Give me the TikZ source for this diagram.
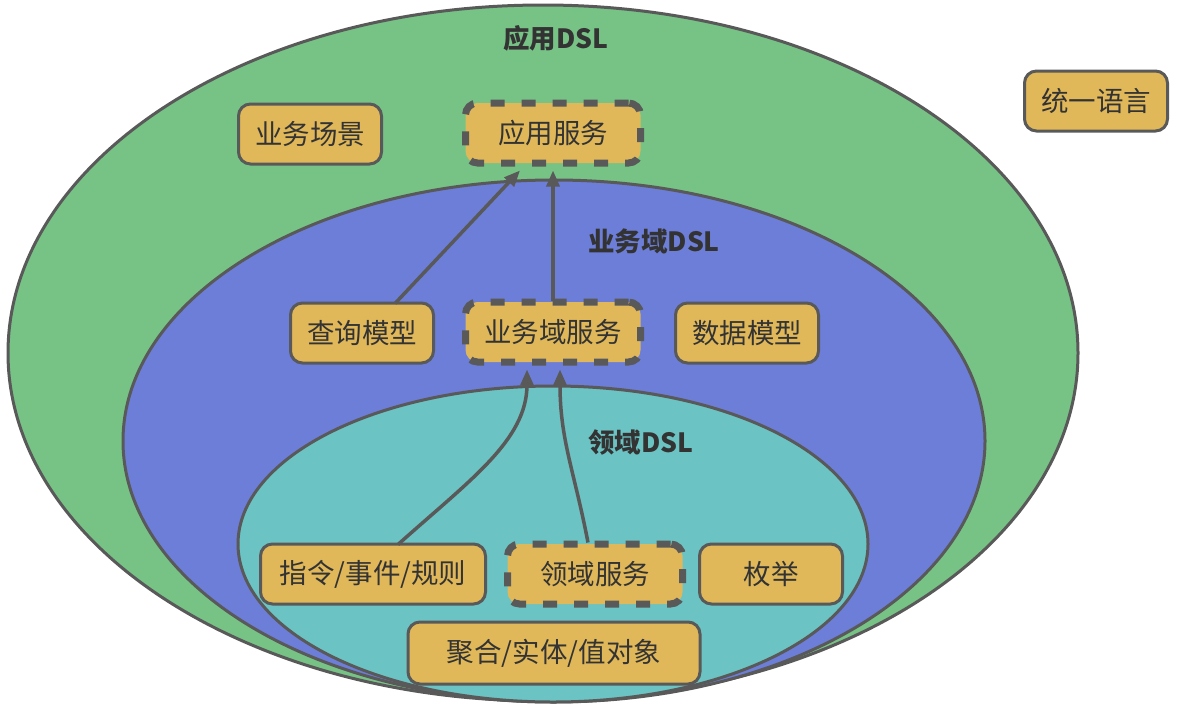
\documentclass[tikz,border=0pt]{standalone}
\usepackage{fontspec}
\setmainfont{Noto Sans CJK SC}
\newfontfamily\cjk{Noto Sans CJK SC}
\usetikzlibrary{arrows.meta}
\definecolor{cgreen}{HTML}{77C386}
\definecolor{cblue}{HTML}{6C7ED7}
\definecolor{cteal}{HTML}{6CC3C3}
\definecolor{cbox}{HTML}{E0B85A}
\definecolor{cline}{HTML}{595959}
\definecolor{ctext}{HTML}{333333}
\begin{document}
\begin{tikzpicture}[x=1pt,y=-1pt,
  region/.style={draw=cline,line width=3pt},
  tbox/.style={draw=cline,fill=cbox,line width=3pt,rounded corners=12pt,
    minimum width=143pt,minimum height=60pt,inner sep=0pt,
    font=\cjk\fontsize{27.5}{30}\selectfont,text=ctext},
  dbox/.style={tbox,minimum width=175pt,line width=7pt,dash pattern=on 14pt off 17pt},
  title/.style={font=\cjk\bfseries\fontsize{26.5}{30}\selectfont,text=ctext},
  conn/.style={draw=cline,line width=3.5pt,-{Triangle[length=16pt,width=13pt]}}
]
\useasboundingbox (0,0) rectangle (1180,712);
% regions
\draw[region,fill=cgreen] (543,353) ellipse [x radius=535, y radius=348];
\draw[region,fill=cblue] (554,441) ellipse [x radius=431, y radius=261];
\draw[region,fill=cteal] (553,544) ellipse [x radius=315, y radius=158];
% titles
\node[title] (t1) at (556,38) {应用DSL};
\node[title] (t2) at (654,241) {业务域DSL};
\node[title] (t3) at (641,442) {领域DSL};
% boxes
\node[tbox] (scene) at (310,134) {业务场景};
\node[dbox] (app) at (553,133) {应用服务};
\node[tbox] (lang) at (1096,101) {统一语言};
\node[tbox] (query) at (362,333) {查询模型};
\node[dbox] (bds) at (553,332) {业务域服务};
\node[tbox] (data) at (747,333) {数据模型};
\node[tbox,minimum width=225pt] (cmd) at (373,574) {指令/事件/规则};
\node[dbox] (ds) at (595,574) {领域服务};
\node[tbox] (enum) at (771,574) {枚举};
\node[tbox,minimum width=292pt,minimum height=62pt] (agg) at (554,653) {聚合/实体/值对象};
% connectors
\draw[conn] ([xshift=33pt,yshift=-2pt]query.north) -- ([xshift=-33pt,yshift=-4pt]app.south);
\draw[conn] ([yshift=-2pt]bds.north) -- ([yshift=-4pt]app.south);
\draw[conn] ([xshift=25pt,yshift=-2pt]cmd.north) .. controls (470,480) and (527,440) .. ([xshift=-26pt,yshift=-4pt]bds.south);
\draw[conn] ([xshift=-7pt,yshift=-2pt]ds.north) .. controls (574,470) and (560,440) .. ([xshift=7pt,yshift=-4pt]bds.south);
\end{tikzpicture}
\end{document}
